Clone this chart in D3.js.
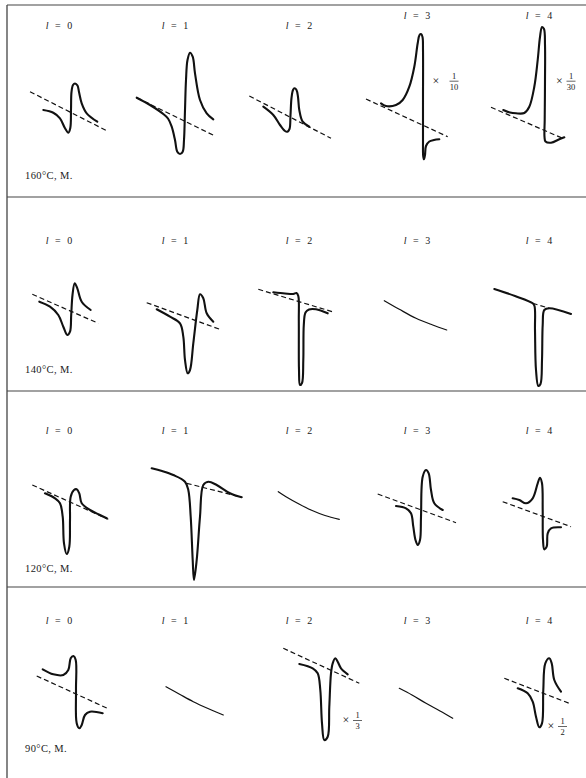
<!DOCTYPE html>
<html>
<head>
<meta charset="utf-8">
<script src="https://cdn.jsdelivr.net/npm/d3@7"></script>
<style>
  body { margin: 0; background: #fff; }
  svg { display: block; }
  text { font-family: 'Liberation Serif', 'DejaVu Serif', serif; fill: #1a1a1a; }
</style>
</head>
<body>
<div id="chart"></div>
<script>
// row / column labels
let temps = ['160°C, M.', '140°C, M.', '120°C, M.', '90°C, M.']
let lValues = [0, 1, 2, 3, 4]

// traces: [field, signal] in panel units (field 0..117, signal -96..96)
let t160_0 = [[36.3, -9], [46.3, -11.7], [53, -17.3], [58, -27.3], [61.3, -31.7], [63.3, -27], [64, -9], [64.5, 9], [66, 16], [68, 17.5], [70.5, 15.5], [72, 9], [74.7, -2.3], [79.7, -12.3], [90.3, -20.7]]
let b160_0 = [[23, 9.3], [100.3, -30]]
let t160_1 = [[12.7, 3.3], [26, -4], [39.3, -13], [44, -17.5], [47.7, -25.7], [51, -39], [53.3, -50.7], [56, -53], [58.7, -50.7], [60, -39], [61, -9], [62, 21], [63.5, 41], [66, 48.3], [68.7, 44.3], [71, 27.7], [76, 1], [82.7, -12.3], [89.3, -18.3]]
let b160_1 = [[12.7, 3.3], [91, -35]]
let t160_2 = [[22.3, -5.7], [32.3, -14], [39, -24], [44, -30], [46.3, -30.7], [48.5, -28], [49.5, -14], [50.5, 3], [52, 11], [53.5, 12.7], [55.5, 11], [57, 4], [58.3, -9], [61.7, -20.7], [68.3, -25.7]]
let b160_2 = [[8.3, 5], [90, -37.3]]
let t160_3 = [[23, -2.3], [28, -5], [38, -4], [44.7, 1], [51.3, 14.3], [56.3, 34.3], [59.7, 57.7], [61.5, 66], [63, 67], [64.5, 64], [65, 51], [65, 1], [65, -39], [65.2, -55], [66, -58.3], [67, -54], [68, -45], [71.3, -40.5], [76, -39], [81.3, -38.3]]
let b160_3 = [[8, 2], [89.7, -35.7]]
let t160_4 = [[28.3, -9], [35, -11.5], [41, -12.3], [49.3, -12], [54.3, -5.7], [59.3, 14.3], [62.7, 41], [65, 64], [67, 74], [69, 72], [70, 56], [70, 21], [69.7, -19], [69.5, -35.7], [70.5, -40.5], [76, -41.7], [84.3, -38.3], [89.3, -36.3]]
let b160_4 = [[16, -6.3], [87.7, -37.3]]

let t140_0 = [[32.3, -8.7], [43, -13.7], [51.3, -22], [56.3, -33.7], [60.3, -42], [63, -38.7], [64.2, -22], [65.5, -2], [67.7, 9.7], [70.3, 4.7], [74.7, -8.7], [83.7, -17]]
let b140_0 = [[25.3, -1.3], [91.3, -30.3]]
let t140_1 = [[32.7, -16.3], [46, -23.7], [56, -30.3], [59.3, -43.7], [61, -67], [63.7, -80.3], [66, -77], [69.3, -50.3], [73.3, -17], [76, -1.3], [79.3, -5.3], [82.7, -20.3], [89.3, -28.7]]
let b140_1 = [[22.7, -9.7], [97.7, -37]]
let t140_2 = [[32.3, 0.7], [44, -0.5], [52.3, -1], [55.5, 0], [57.3, -3], [57.8, -27], [58, -77], [59, -92], [61, -90], [62.3, -67], [62.8, -32], [64.5, -19.5], [68, -16.5], [75, -16.3], [86.7, -20.3]]
let b140_2 = [[17.3, 3.7], [93.3, -19.3]]
let t140_3 = [[26.3, -7.7], [41.3, -16.3], [58, -25.3], [74.7, -32], [88.7, -37]]
let t140_4 = [[19.3, 4], [40, -3], [57.7, -10.3], [59.5, -13], [60, -37], [61, -77], [63.3, -93], [65.5, -91], [67, -67], [67.7, -32], [69.3, -17], [74.3, -15.3], [96, -21]]
let b140_4 = [[57.7, -10.3], [74.3, -15.3]]

let t120_0 = [[38, -6.3], [48, -11.3], [53, -16.3], [55.7, -29.7], [57, -56.3], [59.7, -67], [62.3, -59.7], [63, -33], [63.7, -9.7], [67, -3], [69.7, -2.3], [72.3, -6.3], [74.7, -16.3], [83, -23], [93, -28], [99.7, -31.3]]
let b120_0 = [[25.3, 2], [101.3, -32.3]]
let t120_1 = [[27.7, 18.7], [38, 16], [49.3, 12], [61, 5.3], [64.3, -3], [66.7, -29.7], [68.7, -73], [70, -93], [72.7, -73], [76, -29.7], [79.3, 2], [84.3, 5.3], [92.7, 2], [106, -6.3], [117.7, -10.3]]
let b120_1 = [[62.7, 3.7], [117.7, -10.3]]
let t120_2 = [[37.3, -4.7], [45, -9.7], [58, -17], [70, -23], [84, -28.5], [98.3, -32.3]]
let t120_3 = [[38, -19], [48, -21.3], [53, -26.3], [55.3, -39.7], [57.5, -53], [59.7, -58], [62, -53], [63, -29.7], [64.7, 10.3], [68, 17], [70.7, 13.7], [73, -3], [76.3, -16.3], [84.7, -23]]
let b120_3 = [[19.7, -7], [98, -35.7]]
let t120_4 = [[37.7, -11.3], [44.3, -13], [51, -16.3], [57.7, -11.3], [62.7, 3.7], [65, 9.3], [67, 3.7], [67.7, -23], [68, -53], [69.3, -62.3], [71.7, -59.7], [72.7, -46.3], [76, -41.3], [86, -40.3]]
let b120_4 = [[27.7, -14.7], [96, -39.7]]

let t90_0 = [[35.7, 13.7], [46.3, 8.7], [56.3, 8], [61.3, 13], [63.7, 24.7], [66.3, 27], [68.7, 23], [69, -7], [69.7, -40.3], [72.3, -45.3], [74.7, -42], [78, -32], [83, -28.7], [95.7, -30.3]]
let b90_0 = [[29.7, 7], [100.3, -25.3]]
let t90_1 = [[42, -3.7], [56, -11.5], [69.3, -18.7], [84, -25.5], [99.3, -32]]
let t90_2 = [[58.3, 19], [71.7, 14.7], [76.7, 9.7], [79.3, -7], [81, -40.3], [83.3, -57], [86.7, -53.7], [88.3, -23.7], [90, 9.7], [91.7, 19.7], [94.3, 24.7], [96.7, 21.3], [100, 14.7], [106.7, 8.7]]
let b90_2 = [[42.3, 34.7], [118.3, -0.3]]
let t90_3 = [[41.3, -5.3], [54, -12], [68, -20.3], [82, -28], [94.7, -35.3]]
let t90_4 = [[42.7, -5.3], [52.7, -10.3], [57.7, -18.7], [61, -33.7], [64.3, -44.3], [67, -40.3], [68.3, -7], [70.3, 19.7], [74.3, 24.7], [76.7, 19.7], [79.3, 3], [86, -8.7]]
let b90_4 = [[29.3, 4.7], [94.3, -20.3]]

// gain factors written beside some traces
let gainDen = ['10', '30', '3', '2']
let gainCell = [[0, 3], [0, 4], [3, 2], [3, 4]]

let panels = [
  [0, 0, t160_0, b160_0], [0, 1, t160_1, b160_1], [0, 2, t160_2, b160_2], [0, 3, t160_3, b160_3], [0, 4, t160_4, b160_4],
  [1, 0, t140_0, b140_0], [1, 1, t140_1, b140_1], [1, 2, t140_2, b140_2], [1, 3, t140_3, null], [1, 4, t140_4, b140_4],
  [2, 0, t120_0, b120_0], [2, 1, t120_1, b120_1], [2, 2, t120_2, null], [2, 3, t120_3, b120_3], [2, 4, t120_4, b120_4],
  [3, 0, t90_0, b90_0], [3, 1, t90_1, null], [3, 2, t90_2, b90_2], [3, 3, t90_3, null], [3, 4, t90_4, b90_4]
].map(d => ({ row: d[0], col: d[1], trace: d[2], base: d[3] }))

// layout
let width = 586
let height = 778
let rowTop = [5, 197, 391, 587]
let colLeft = [7, 124, 241, 358, 475]
let labelX = [52, 51, 58, 59, 64]
let labelY = [25, 240, 430, 620]
let tempY = [175, 369, 568, 748]
let gainPos = [[78, 96, 20.3], [84.3, 96, 20.3], [105, 116.5, -37], [76, 87.5, -43]]

let svg = d3
  .select('#chart')
  .append('svg')
  .attr('width', width)
  .attr('height', height)

let xScales = colLeft.map(x0 => d3.scaleLinear().domain([0, 117]).range([x0, x0 + 117]))
let yScales = rowTop.map(y0 => d3.scaleLinear().domain([-96, 96]).range([y0 + 192, y0]))

// frame lines
svg
  .selectAll('.sep')
  .data(rowTop)
  .enter()
  .append('line')
  .attr('class', 'sep')
  .attr('x1', 7)
  .attr('x2', width)
  .attr('y1', d => d)
  .attr('y2', d => d)
  .attr('stroke', '#444')
  .attr('stroke-width', 1.1)

svg
  .append('line')
  .attr('x1', 7)
  .attr('x2', 7)
  .attr('y1', rowTop[0])
  .attr('y2', height)
  .attr('stroke', '#444')
  .attr('stroke-width', 1.3)

panels.forEach(p => {
  let x = xScales[p.col]
  let y = yScales[p.row]
  let line = d3
    .line()
    .x(d => x(d[0]))
    .y(d => y(d[1]))
    .curve(d3.curveCatmullRom.alpha(0.5))

  let flat = p.trace.length <= 6

  if (p.base) {
    svg
      .append('path')
      .attr('d', d3.line().x(d => x(d[0])).y(d => y(d[1]))(p.base))
      .attr('fill', 'none')
      .attr('stroke', '#111')
      .attr('stroke-width', 1.2)
      .attr('stroke-dasharray', '5,3')
  }

  svg
    .append('path')
    .attr('d', line(p.trace))
    .attr('fill', 'none')
    .attr('stroke', '#111')
    .attr('stroke-width', flat ? 1.2 : 2.1)
    .attr('stroke-linejoin', 'round')
    .attr('stroke-linecap', 'round')
})

// column labels  l = 0 ... l = 4
temps.forEach((t, r) => {
  lValues.forEach((l, c) => {
    let ty = labelY[r]
    if (r === 0 && c >= 3) ty = 15
    let txt = svg
      .append('text')
      .attr('x', colLeft[c] + labelX[c])
      .attr('y', ty + 3.5)
      .attr('text-anchor', 'middle')
      .attr('font-size', 10)
      .style('word-spacing', '4px')
    txt.append('tspan').attr('font-style', 'italic').text('l')
    txt.append('tspan').text(' = ' + l)
  })

  svg
    .append('text')
    .attr('x', 25)
    .attr('y', tempY[r] + 3.5)
    .attr('font-size', 10.5)
    .style('letter-spacing', '0.4px')
    .text(t)
})

// gain factors  × 1/n
gainDen.forEach((den, i) => {
  let [r, c] = gainCell[i]
  let x = xScales[c]
  let y = yScales[r]
  let [xt, xf, s] = gainPos[i]
  let g = svg.append('g')
  g.append('text')
    .attr('x', x(xt))
    .attr('y', y(s) + 4)
    .attr('text-anchor', 'middle')
    .attr('font-size', 12)
    .text('×')
  g.append('text')
    .attr('x', x(xf))
    .attr('y', y(s) - 2)
    .attr('text-anchor', 'middle')
    .attr('font-size', 8.5)
    .text('1')
  g.append('line')
    .attr('x1', x(xf) - 4.5)
    .attr('x2', x(xf) + 4.5)
    .attr('y1', y(s) + 0.5)
    .attr('y2', y(s) + 0.5)
    .attr('stroke', '#222')
    .attr('stroke-width', 0.7)
  g.append('text')
    .attr('x', x(xf))
    .attr('y', y(s) + 9)
    .attr('text-anchor', 'middle')
    .attr('font-size', 8.5)
    .text(den)
})
</script>
</body>
</html>
